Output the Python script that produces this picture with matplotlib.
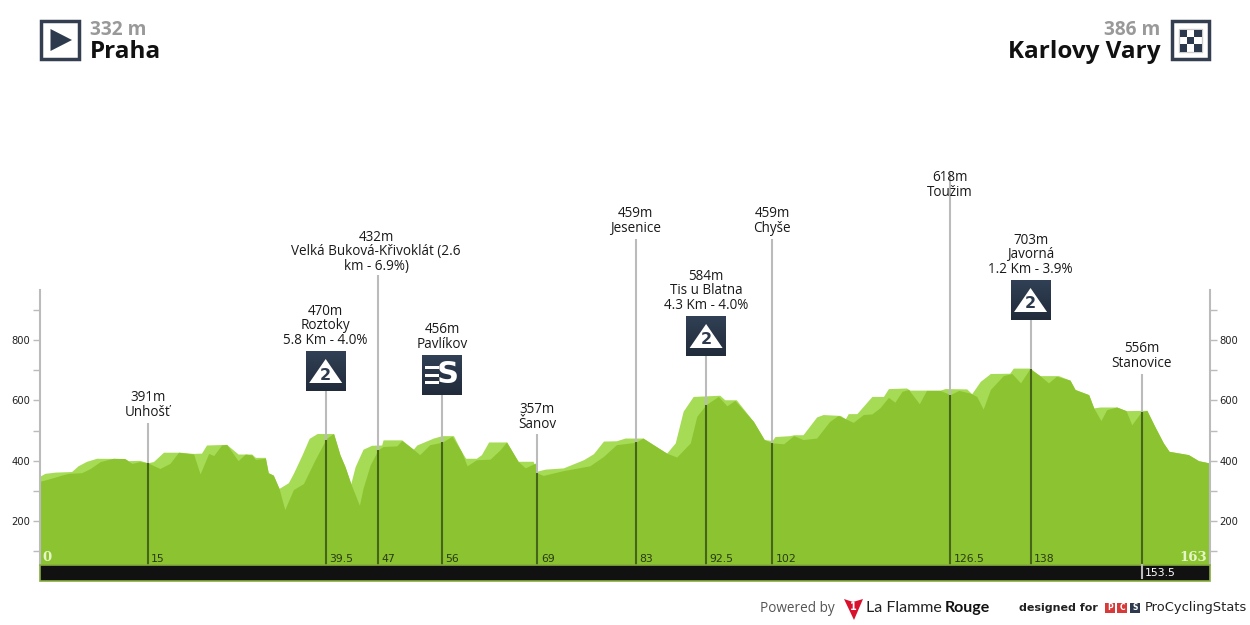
import numpy as np
import matplotlib
matplotlib.use('Agg')
import matplotlib.pyplot as plt
from matplotlib.patches import Rectangle, Polygon

# profile, upper (light) and lower (dark) layer: km / metres
light_km = [0, 0.7, 2.1, 4.4, 5.3, 6.5, 7.9, 11.8, 12.3, 13.9, 15, 15.8, 17.2, 19.5, 21.4, 22.5, 23.2, 26, 27.6, 29.5,
            30, 31.4, 31.8, 32.5, 33.3, 34.6, 35.3, 36.5, 37.5, 38.6, 40.9, 41.8, 42.5, 43.3, 43.9, 45, 46.2, 47.6,
            47.8, 50.4, 52, 52.5, 54.8, 56, 57.6, 58.7, 59.3, 60.8, 61.5, 62.5, 65, 66.6, 68.7, 69.2, 70.4, 72.9,
            75.7, 77.1, 78.5, 80.3, 81.5, 84, 87.3, 88.5, 89.6, 91, 94.7, 95.4, 97, 99.4, 100.9, 102, 102.4, 104.5,
            105, 106.3, 108.2, 109.1, 111.5, 112.2, 112.6, 113.8, 115.9, 117.5, 118.2, 120.7, 121.2, 125.4, 126.1,
            129.1, 129.8, 131, 132.4, 135.1, 135.6, 137.9, 139.3, 141.9, 143.5, 144.2, 146.1, 146.8, 147.7, 150,
            151.3, 154.2, 155.3, 156.5, 157.3, 160, 161.4, 163]
light_elev = [349, 358, 362, 364, 383, 398, 408, 407, 400, 401, 393, 397, 428, 428, 424, 425, 452, 454, 422, 422,
              411, 411, 360, 352, 308, 327, 358, 419, 474, 490, 490, 419, 380, 324, 380, 438, 451, 452,
              469, 469, 438, 452, 475, 483, 483, 431, 408, 408, 420, 462, 462, 398, 398, 365, 372, 376,
              403, 423, 465, 466, 475, 475, 425, 459, 564, 613, 617, 602, 602, 530, 470, 467, 480, 483,
              486, 486, 545, 553, 550, 539, 556, 556, 613, 613, 639, 641, 634, 634, 639,
              638, 622, 663, 689, 690, 707, 707, 682, 682, 667, 636, 619, 575, 578, 578,
              566, 567, 514, 459, 431, 420, 400, 392]
dark_km = [0, 0.7, 1.9, 3, 4, 5.8, 7, 8.4, 10.2, 11.8, 12.8, 13.9, 15, 16.7, 18.1, 19.3, 21.4, 22.3, 23.5, 24.2, 25.3,
           26, 27.6, 28.6, 29.5, 30, 31.4, 31.8, 32.5, 33.3, 34.1, 35.3, 36.7, 38.3, 39.9, 40.9, 41.8, 42.5, 43.3,
           44.5, 45, 46, 47.1, 47.8, 49.7, 50.4, 52, 52.9, 54.3, 56, 57.4, 58.7, 59.5, 60.8, 62.7, 64.1, 65, 66.6,
           67.6, 69, 69.3, 70.1, 72.9, 76.6, 78.5, 80.3, 83, 84, 87.3, 88.7, 90.6, 91.5, 92.8, 94.5, 95.7, 96.8,
           99.4, 100.9, 102, 103.6, 105, 106.3, 108.2, 110, 111.2, 112.2, 113.3, 114.7, 115.9, 117, 118.2, 119.1,
           120.1, 121, 122.5, 123.5, 125.4, 126.8, 128, 129.6, 130.5, 131.4, 132.4, 134.2, 135.4, 136.6, 137.9,
           139.3, 140.5, 141.6, 143.5, 144.2, 146.1, 146.8, 147.8, 148.6, 150, 151.3, 152.1, 153.4, 154.2, 155.3,
           156.5, 157.3, 160, 161.4, 163]
dark_elev = [332, 336, 344, 352, 358, 360, 374, 397, 408, 407, 391, 397, 393, 374, 391, 428, 422, 356, 424, 417, 452,
             454, 400, 422, 419, 404, 408, 360, 352, 308, 238, 304, 324, 402, 474, 490, 419, 380, 324,
             252, 308, 386, 436, 447, 449, 467, 438, 420, 453, 461, 481, 431, 383, 403, 405, 436, 462, 398,
             376, 392, 359, 351, 367, 383, 414, 453, 461, 475, 425, 412, 459, 547, 586, 613, 582, 600,
             530, 470, 459, 456, 483, 470, 475, 530, 550, 539, 527, 553, 555, 575, 610, 594,
             630, 636, 589, 633, 633, 619, 633, 624, 613, 571, 636, 682, 689, 658, 705,
             682, 658, 680, 667, 636, 619, 575, 533, 569, 578, 566, 519, 561, 567, 514,
             459, 431, 420, 400, 392]

# climbs / points along the route
point_km = [15, 39.8, 47.1, 56, 69.3, 83, 92.8, 102, 126.8, 138, 153.5]
point_km_labels = ['15', '39.5', '47', '56', '69', '83', '92.5', '102', '126.5', '138', '153.5']
point_top = [526, 635, 1017, 619, 490, 1136, 748, 1136, 1355, 868, 689]
point_labels = ['391m\nUnhošť', '470m\nRoztoky\n5.8 Km - 4.0%', '432m\nVelká Buková-Křivoklát (2.6\nkm - 6.9%)',
                '456m\nPavlíkov', '357m\nŠanov', '459m\nJesenice', '584m\nTis u Blatna\n4.3 Km - 4.0%',
                '459m\nChyše', '618m\nToužim', '703m\nJavorná\n1.2 Km - 3.9%', '556m\nStanovice']
label_bottom = [420, 348, 274, 352, 432, 236, 313, 236, 200, 277, 371]
label_shift = [0, 0, -2, 0, 0, 0, 0, 0, 0, 0, 0]

y_ticks = [200, 400, 600, 800]
y_minor = [100, 300, 500, 700, 900]

LIGHT = '#a6db55'
DARK = '#8bc430'
NAVY = '#2d3a4e'
GREY = '#bbbbbb'
LABEL_FONT = ['Open Sans', 'DejaVu Sans']

fig = plt.figure(figsize=(12.5, 6.25), dpi=100)

# main profile, axes box = 40..1210 px, 290..565 px
ax = fig.add_axes([40 / 1250, 60 / 625, 1170 / 1250, 275 / 625])
ax.set_xlim(0, 163)
ax.set_ylim(54, 966)
ax.patch.set_alpha(0)
ax.fill_between(light_km, 54, light_elev, color=LIGHT, lw=0)
ax.fill_between(dark_km, 54, dark_elev, color=DARK, lw=0)

for s in ['top', 'bottom']:
    ax.spines[s].set_visible(False)
for s in ['left', 'right']:
    ax.spines[s].set_color(GREY)
    ax.spines[s].set_linewidth(1.5)
ax.set_xticks([])
ax.set_yticks(y_ticks)
ax.set_yticks(y_minor, minor=True)
ax.tick_params(axis='y', which='both', left=True, right=True, labelleft=True, labelright=True,
               color=GREY, length=5, width=1, labelsize=7.2, labelcolor='#222222', pad=2)

tops = np.interp(point_km, dark_km, dark_elev)
ax.vlines(point_km, tops, point_top, color=GREY, lw=1.5, clip_on=False, zorder=2)
ax.vlines(point_km, 54, tops, color='#47641b', lw=1.5, zorder=3)

for km, txt in zip(point_km[:-1], point_km_labels[:-1]):
    ax.annotate(txt, (km, 54), xytext=(2.5, 0.5), textcoords='offset points', fontsize=7.8, color='#2a3a10',
                va='bottom')
ax.text(0.3, 56, '0', family='DejaVu Serif', weight='bold', fontsize=9.5, color='#e6f5c8', va='bottom')
ax.text(162.6, 56, '163', family='DejaVu Serif', weight='bold', fontsize=9.5, color='#e6f5c8', va='bottom', ha='right')

# everything else is placed in pixels
pix = fig.add_axes([0, 0, 1, 1])
pix.set_xlim(0, 1250)
pix.set_ylim(625, 0)
pix.axis('off')
pix.patch.set_alpha(0)

# black distance bar
pix.add_patch(Rectangle((40, 565), 1170, 16, fc='#111111', ec='#86ad3c', lw=1.2))
x153 = 40 + 153.5 * 1170 / 163
pix.plot([x153, x153], [565, 578], color=GREY, lw=1.5)
pix.text(x153 + 3, 573.5, point_km_labels[-1], color='white', fontsize=7.8, va='center')

for km, txt, b, sh in zip(point_km, point_labels, label_bottom, label_shift):
    x = 40 + km * 1170 / 163
    pix.text(x + sh, b, txt, family=LABEL_FONT, fontsize=9.75, color='#1a1a1a', ha='center', va='bottom',
             linespacing=0.97)


def badge(x, top):
    grad = np.linspace(0, 1, 40).reshape(-1, 1)
    cols = np.array([[0.19, 0.25, 0.33]]) * (1 - grad) + np.array([[0.13, 0.17, 0.23]]) * grad
    pix.imshow(cols[:, None, :], extent=(x - 20, x + 20, top + 40, top), aspect='auto', zorder=4)


def climb_badge(x, top):
    badge(x, top)
    pix.add_patch(Polygon([(x - 16.5, top + 32), (x, top + 8), (x + 16.5, top + 32)], fc='white', lw=0, zorder=5))
    pix.text(x, top + 24, '2', family='DejaVu Sans', weight='bold', fontsize=11.5, color=NAVY, ha='center',
             va='center', zorder=6)


for km, top in [(39.8, 351), (92.8, 316), (138, 280)]:
    climb_badge(40 + km * 1170 / 163, top)

# sprint badge
xs = 442
badge(xs, 355)
for i in range(3):
    pix.add_patch(Rectangle((xs - 17, 366 + i * 7.5), 14, 3, fc='white', lw=0, zorder=5))
pix.text(xs + 6, 374.5, 'S', family='DejaVu Sans', weight='bold', fontsize=22, color='white',
         ha='center', va='center', zorder=6)

# header, start
pix.add_patch(Rectangle((41, 21), 38, 38, fc='white', ec='#333f50', lw=2.5))
pix.add_patch(Polygon([(50.5, 29), (72, 40), (50.5, 51)], fc=NAVY, lw=0))
pix.text(90, 30, '332 m', family='Open Sans', weight='bold', fontsize=13.8, color='#999999', va='center')
pix.text(90, 52.5, 'Praha', family='Open Sans', weight='bold', fontsize=17.5, color='#111111', va='center')

# header, finish
pix.add_patch(Rectangle((1172, 21), 37, 38, fc='white', ec='#333f50', lw=2.5))
pix.add_patch(Rectangle((1179, 29), 23, 23, fc='white', ec='#cccccc', lw=1))
for r in range(3):
    for c in range(3):
        if (r + c) % 2 == 0:
            pix.add_patch(Rectangle((1179.5 + c * 7.4, 29.5 + r * 7.4), 7.4, 7.4, fc=NAVY, lw=0))
pix.text(1160, 30, '386 m', family='Open Sans', weight='bold', fontsize=13.8, color='#999999', va='center', ha='right')
pix.text(1160, 52.5, 'Karlovy Vary', family='Open Sans', weight='bold', fontsize=17.5, color='#111111', va='center',
         ha='right')

# footer
pix.text(760, 608, 'Powered by', family='Open Sans', fontsize=9.8, color='#555555', va='center')
pix.add_patch(Polygon([(844, 599), (853, 602), (863, 599), (854, 620)], fc='#d8112d', lw=0))
pix.text(853.5, 607, '1', family='DejaVu Sans', weight='bold', fontsize=7, color='white', ha='center', va='center')
pix.text(866, 608, 'La Flamme', family='Lato', fontsize=11.5, color='#222222', va='center')
pix.text(990, 608, 'Rouge', family='Lato', weight='bold', fontsize=11.5, color='#111111', va='center', ha='right')
pix.text(1019, 608, 'designed for', family='DejaVu Sans', weight='bold', fontsize=8, color='#222222', va='center')
for x0, ch, col in [(1105, 'P', '#d83a3a'), (1117, 'C', '#d83a3a'), (1130, 'S', '#2d3a4e')]:
    pix.add_patch(Rectangle((x0, 603), 10, 10, fc=col, lw=0))
    pix.text(x0 + 5, 608, ch, family='DejaVu Sans', weight='bold', fontsize=5.5, color='white', ha='center',
             va='center')
pix.text(1145, 608, 'ProCyclingStats', family='DejaVu Sans', fontsize=9.4, color='#222222', va='center')

fig.savefig('out.png', dpi=100)
